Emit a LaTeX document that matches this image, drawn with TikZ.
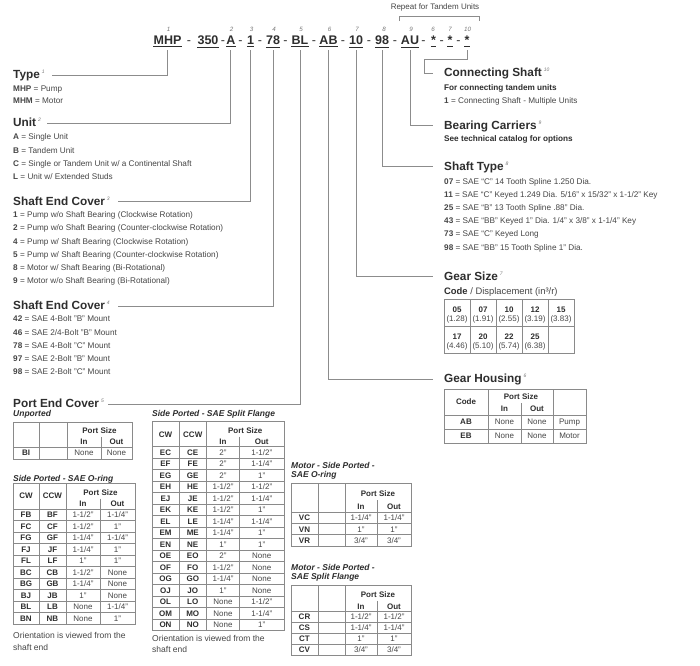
\documentclass[tikz,border=0pt]{standalone}
\usepackage{fontspec}
\setmainfont{Liberation Sans}
\usetikzlibrary{calc}
\definecolor{txt}{HTML}{2E2E2E}
\definecolor{txl}{HTML}{464646}
\definecolor{ln}{HTML}{8C8C8C}
\definecolor{tl}{HTML}{8A8A8A}
\definecolor{sg}{HTML}{777777}
\newcommand\sx[1]{\,{\fontsize{5}{5}\selectfont\mdseries\itshape\color{sg}\raisebox{5pt}{#1}}}
\tikzset{
 conn/.style={draw=ln, line width=0.9pt},
 brk/.style={draw=ln, line width=0.7pt},
 uline/.style={draw=txt, line width=0.9pt},
 ttl/.style={anchor=base west, inner sep=0, font=\fontsize{11.8}{13}\selectfont\bfseries, text=txt},
 itm/.style={anchor=base west, inner sep=0, font=\fontsize{8.2}{9}\selectfont, text=txl},
 itb/.style={anchor=base west, inner sep=0, font=\fontsize{8.2}{9}\selectfont\bfseries, text=txt},
 code/.style={anchor=base, inner sep=0, font=\fontsize{12.5}{14}\selectfont\bfseries, text=txt},
 dsh/.style={anchor=base, inner sep=0, font=\fontsize{12.5}{14}\selectfont, text=txt},
 idx/.style={anchor=base, inner sep=0, font=\fontsize{6.2}{7}\selectfont\itshape, text=sg},
 rep/.style={inner sep=0, font=\fontsize{8}{9}\selectfont, text=txl},
 sub/.style={anchor=base west, inner sep=0, font=\fontsize{8.5}{9}\selectfont\bfseries\itshape, text=txt},
 note/.style={anchor=base west, inner sep=0, font=\fontsize{8.5}{9}\selectfont, text=txl},
 tgrid/.style={draw=tl, line width=0.7pt},
 th/.style={inner sep=0, font=\fontsize{8}{9}\selectfont\bfseries, text=txt, text height=5.8pt, text depth=0pt},
 tcn/.style={inner sep=0, font=\fontsize{8}{9}\selectfont, text=txl, text height=5.8pt, text depth=0pt},
}
\newcount\rn
\def\tname{}
\newcommand\thead[3]{%
  \global\rn=0\relax
  \gdef\tname{#1}%
  \pgfmathsetmacro\hm{(\TT+\TH)/2}%
  \pgfmathsetmacro\hp{\TT+0.36*(\TH-\TT)}%
  \pgfmathsetmacro\hi{\TT+0.8*(\TH-\TT)}%
  \node[th] (#1-cw) at ({(\TA+\TB)/2},\hm) {#2};
  \node[th] (#1-ccw) at ({(\TB+\TC)/2},\hm) {#3};
  \node[th] (#1-ps) at ({(\TC+\TE)/2},\hp) {Port Size};
  \node[th] (#1-in) at ({(\TC+\TD)/2},\hi) {In};
  \node[th] (#1-out) at ({(\TD+\TE)/2},\hi) {Out};
}
\newcommand\trow[4]{%
  \global\advance\rn by 1\relax
  \pgfmathsetmacro\ry{\TH+(\the\rn-0.5)*\TR}%
  \pgfmathsetmacro\rl{\TH+\the\rn*\TR}%
  \node[th] (\tname-\the\rn-a) at ({(\TA+\TB)/2},\ry) {#1};
  \node[th] (\tname-\the\rn-b) at ({(\TB+\TC)/2},\ry) {#2};
  \node[tcn] (\tname-\the\rn-c) at ({(\TC+\TD)/2},\ry) {#3};
  \node[tcn] (\tname-\the\rn-d) at ({(\TD+\TE)/2},\ry) {#4};
  \draw[tgrid] (\TA,\rl) -- (\TE,\rl);
}
\newcommand\tend{%
  \pgfmathsetmacro\tb{\TH+\the\rn*\TR}%
  \pgfmathsetmacro\hd{\TT+0.6*(\TH-\TT)}%
  \draw[tgrid] (\TA,\TT) rectangle (\TE,\tb);
  \draw[tgrid] (\TA,\TH) -- (\TE,\TH);
  \draw[tgrid] (\TB,\TT) -- (\TB,\tb) (\TC,\TT) -- (\TC,\tb) (\TD,\hd) -- (\TD,\tb);
}
\begin{document}
\begin{tikzpicture}[x=1pt,y=-1pt]
\useasboundingbox (0,0) rectangle (700,665);
\fill[white] (0,0) rectangle (700,665);

% ---------- header code line ----------
\node[rep] (rep) at (435,7) {Repeat for Tandem Units};
\draw[brk] (399,21) -- (399,16) -- (479,16) -- (479,21);

\node[code] (c1) at (167.5,44.3) {MHP};
\node[code] (c2) at (208,44.3) {350};
\node[code] (c3) at (230.8,44.3) {A};
\node[code] (c4) at (250.5,44.3) {1};
\node[code] (c5) at (273,44.3) {78};
\node[code] (c6) at (300,44.3) {BL};
\node[code] (c7) at (328.5,44.3) {AB};
\node[code] (c8) at (356,44.3) {10};
\node[code] (c9) at (382,44.3) {98};
\node[code] (c10) at (410,44.3) {AU};
\node[code] (c11) at (433.5,44.3) {*};
\node[code] (c12) at (450,44.3) {*};
\node[code] (c13) at (467,44.3) {*};
\foreach \n in {c1,c2,c3,c4,c5,c6,c7,c8,c9,c10,c11,c12,c13}
  \draw[uline] ([yshift=-2.4pt]\n.south west) -- ([yshift=-2.4pt]\n.south east);
\foreach \x [count=\i] in {189,223,240.5,260,285.5,314,343,369,395,423.5,441.8,458.5}
  \node[dsh] (d\i) at (\x,44.3) {-};
\foreach \x/\t [count=\i] in {168.5/1,231.5/2,251.5/3,274/4,301/5,329.5/6,357/7,384/8,411/9,433/6,450/7,467.5/10}
  \node[idx] (ix\i) at (\x,31.5) {\t};

% ---------- left descriptions ----------
\node[ttl] (type) at (13,78.3) {Type\sx{1}};
\node[itm] (ty1) at (13,91) {\textbf{MHP} = Pump};
\node[itm] (ty2) at (13,103.7) {\textbf{MHM} = Motor};

\node[ttl] (unit) at (13,126.7) {Unit\sx{2}};
\foreach \t [count=\i] in {{\textbf{A} = Single Unit},{\textbf{B} = Tandem Unit},{\textbf{C} = Single or Tandem Unit w/ a Continental Shaft},{\textbf{L} = Unit w/ Extended Studs}}
  \node[itm] (un\i) at (13,{139.7+13.4*(\i-1)}) {\t};

\node[ttl] (sec) at (13,205) {Shaft End Cover\sx{3}};
\foreach \t [count=\i] in {{\textbf{1} = Pump w/o Shaft Bearing (Clockwise Rotation)},{\textbf{2} = Pump w/o Shaft Bearing (Counter-clockwise Rotation)},{\textbf{4} = Pump w/ Shaft Bearing (Clockwise Rotation)},{\textbf{5} = Pump w/ Shaft Bearing (Counter-clockwise Rotation)},{\textbf{8} = Motor w/ Shaft Bearing (Bi-Rotational)},{\textbf{9} = Motor w/o Shaft Bearing (Bi-Rotational)}}
  \node[itm] (se\i) at (13,{217.7+13.2*(\i-1)}) {\t};

\node[ttl] (sem) at (13,309.3) {Shaft End Cover\sx{4}};
\foreach \t [count=\i] in {{\textbf{42} = SAE 4-Bolt "B" Mount},{\textbf{46} = SAE 2/4-Bolt "B" Mount},{\textbf{78} = SAE 4-Bolt "C" Mount},{\textbf{97} = SAE 2-Bolt "B" Mount},{\textbf{98} = SAE 2-Bolt "C" Mount}}
  \node[itm] (sm\i) at (13,{321.7+13.3*(\i-1)}) {\t};

\node[ttl] (pec) at (13,407.3) {Port End Cover\sx{5}};

% ---------- right descriptions ----------
\node[ttl] (cs) at (444,76.7) {Connecting Shaft\sx{10}};
\node[itb] (cs1) at (444,90) {For connecting tandem units};
\node[itm] (cs2) at (444,103.3) {\textbf{1} = Connecting Shaft - Multiple Units};

\node[ttl] (bc) at (444,129) {Bearing Carriers\sx{9}};
\node[itb] (bc1) at (444,141) {See technical catalog for options};

\node[ttl] (st) at (444,170) {Shaft Type\sx{8}};
\foreach \t [count=\i] in {{\textbf{07} = SAE “C” 14 Tooth Spline 1.250 Dia.},{\textbf{11} = SAE “C” Keyed 1.249 Dia. 5/16" x 15/32" x 1-1/2" Key},{\textbf{25} = SAE “B” 13 Tooth Spline .88" Dia.},{\textbf{43} = SAE “BB” Keyed 1" Dia. 1/4" x 3/8" x 1-1/4" Key},{\textbf{73} = SAE “C” Keyed Long},{\textbf{98} = SAE “BB” 15 Tooth Spline 1" Dia.}}
  \node[itm] (sh\i) at (444,{184+13.2*(\i-1)}) {\t};

\node[ttl] (gs) at (444,280) {Gear Size\sx{7}};
\node[anchor=base west, inner sep=0, font=\fontsize{9.4}{10}\selectfont, text=txl] (gsc) at (444,294) {\textbf{\color{txt}Code} / Displacement (in³/r)};
\draw[tgrid] (444,299) rectangle (574,353);
\draw[tgrid] (444,326) -- (574,326);
\foreach \x in {470,496,522,548} \draw[tgrid] (\x,299) -- (\x,353);
\foreach \c/\v [count=\i from 0] in {05/1.28,07/1.91,10/2.55,12/3.19,15/3.83,17/4.46,20/5.10,22/5.74,25/6.38}{
  \pgfmathsetmacro\gx{457+26*mod(\i,5)}
  \pgfmathsetmacro\gy{299+27*floor(\i/5)}
  \node[th] (g\i a) at (\gx,{\gy+10.5}) {\c};
  \node[tcn] (g\i b) at (\gx,{\gy+20}) {(\v)};
}

\node[ttl] (gh) at (444,382.7) {Gear Housing\sx{6}};
\draw[tgrid] (444,389.5) rectangle (586,443);
\draw[tgrid] (444,415) -- (586,415) (444,429) -- (586,429);
\draw[tgrid] (488,389.5) -- (488,443) (553,389.5) -- (553,443) (521,403) -- (521,443);
\node[th] (ghc) at (466,402) {Code};
\node[th] (ghp) at (521,397) {Port Size};
\node[th] (ghi) at (504.5,409) {In};
\node[th] (gho) at (537,409) {Out};
\node[th] (gh1a) at (466,422) {AB};
\node[tcn] (gh1b) at (504.5,422) {None};
\node[tcn] (gh1c) at (537,422) {None};
\node[tcn] (gh1d) at (569.5,422) {Pump};
\node[th] (gh2a) at (466,436) {EB};
\node[tcn] (gh2b) at (504.5,436) {None};
\node[tcn] (gh2c) at (537,436) {None};
\node[tcn] (gh2d) at (569.5,436) {Motor};

% ---------- connectors ----------
\draw[conn] ([yshift=-5.7pt]c1.south) |- ([shift={(7pt,3.3pt)}]type.base east);
\draw[conn] ([yshift=-5.7pt]c3.south) |- ([shift={(6pt,3.3pt)}]unit.base east);
\draw[conn] ([yshift=-5.7pt]c4.south) |- ([shift={(8pt,3.3pt)}]sec.base east);
\draw[conn] ([yshift=-5.7pt]c5.south) |- ([shift={(8pt,3.3pt)}]sem.base east);
\draw[conn] ([yshift=-5.7pt]c6.south) |- ([shift={(4pt,3.3pt)}]pec.base east);
\draw[conn] ([yshift=-5.7pt]c7.south) |- ([shift={(-11pt,3.3pt)}]gh.base west);
\draw[conn] ([yshift=-5.7pt]c8.south) |- ([shift={(-11pt,3.3pt)}]gs.base west);
\draw[conn] ([yshift=-5.7pt]c9.south) |- ([shift={(-11pt,3.3pt)}]st.base west);
\draw[conn] ([yshift=-5.7pt]c10.south) |- ([shift={(-11pt,3.3pt)}]bc.base west);
\coordinate (k1) at (424,59);
\draw[conn] ([yshift=-5.7pt]c13.south) |- (k1) |- ([shift={(-11pt,3.3pt)}]cs.base west);

% ---------- bottom tables ----------
\node[sub] (unp) at (13,416) {Unported};
\def\TA{13}\def\TB{39}\def\TC{67}\def\TD{101}\def\TE{132}\def\TT{422}\def\TH{447}\def\TR{12}
\thead{tu}{}{}
\trow{BI}{}{None}{None}
\tend

\node[sub] (sor) at (13,481) {Side Ported - SAE O-ring};
\def\TA{13}\def\TB{39}\def\TC{66}\def\TD{100}\def\TE{135}\def\TT{483}\def\TH{509}\def\TR{11.5}
\thead{to}{CW}{CCW}
\trow{FB}{BF}{1-1/2"}{1-1/4"}
\trow{FC}{CF}{1-1/2"}{1"}
\trow{FG}{GF}{1-1/4"}{1-1/4"}
\trow{FJ}{JF}{1-1/4"}{1"}
\trow{FL}{LF}{1"}{1"}
\trow{BC}{CB}{1-1/2"}{None}
\trow{BG}{GB}{1-1/4"}{None}
\trow{BJ}{JB}{1"}{None}
\trow{BL}{LB}{None}{1-1/4"}
\trow{BN}{NB}{None}{1"}
\tend
\node[note] (on1) at (13,638) {Orientation is viewed from the};
\node[note] (on2) at (13,650) {shaft end};

\node[sub] (ssf) at (152,416) {Side Ported - SAE Split Flange};
\def\TA{152}\def\TB{179}\def\TC{206.5}\def\TD{239.5}\def\TE{284}\def\TT{421.7}\def\TH{446.7}\def\TR{11.5}
\thead{ts}{CW}{CCW}
\trow{EC}{CE}{2"}{1-1/2"}
\trow{EF}{FE}{2"}{1-1/4"}
\trow{EG}{GE}{2"}{1"}
\trow{EH}{HE}{1-1/2"}{1-1/2"}
\trow{EJ}{JE}{1-1/2"}{1-1/4"}
\trow{EK}{KE}{1-1/2"}{1"}
\trow{EL}{LE}{1-1/4"}{1-1/4"}
\trow{EM}{ME}{1-1/4"}{1"}
\trow{EN}{NE}{1"}{1"}
\trow{OE}{EO}{2"}{None}
\trow{OF}{FO}{1-1/2"}{None}
\trow{OG}{GO}{1-1/4"}{None}
\trow{OJ}{JO}{1"}{None}
\trow{OL}{LO}{None}{1-1/2"}
\trow{OM}{MO}{None}{1-1/4"}
\trow{ON}{NO}{None}{1"}
\tend
\node[note] (on3) at (152,641) {Orientation is viewed from the};
\node[note] (on4) at (152,652.5) {shaft end};

\node[sub] (mo1) at (291,468.3) {Motor - Side Ported -};
\node[sub] (mo2) at (291,477.5) {SAE O-ring};
\def\TA{291}\def\TB{318}\def\TC{345}\def\TD{377}\def\TE{411}\def\TT{483}\def\TH{512}\def\TR{11.4}
\thead{tm}{}{}
\trow{VC}{}{1-1/4"}{1-1/4"}
\trow{VN}{}{1"}{1"}
\trow{VR}{}{3/4"}{3/4"}
\tend

\node[sub] (mf1) at (291,570) {Motor - Side Ported -};
\node[sub] (mf2) at (291,579) {SAE Split Flange};
\def\TA{291}\def\TB{318}\def\TC{345}\def\TD{377}\def\TE{411}\def\TT{585}\def\TH{611.5}\def\TR{11}
\thead{tf}{}{}
\trow{CR}{}{1-1/2"}{1-1/2"}
\trow{CS}{}{1-1/4"}{1-1/4"}
\trow{CT}{}{1"}{1"}
\trow{CV}{}{3/4"}{3/4"}
\tend
\end{tikzpicture}
\end{document}
